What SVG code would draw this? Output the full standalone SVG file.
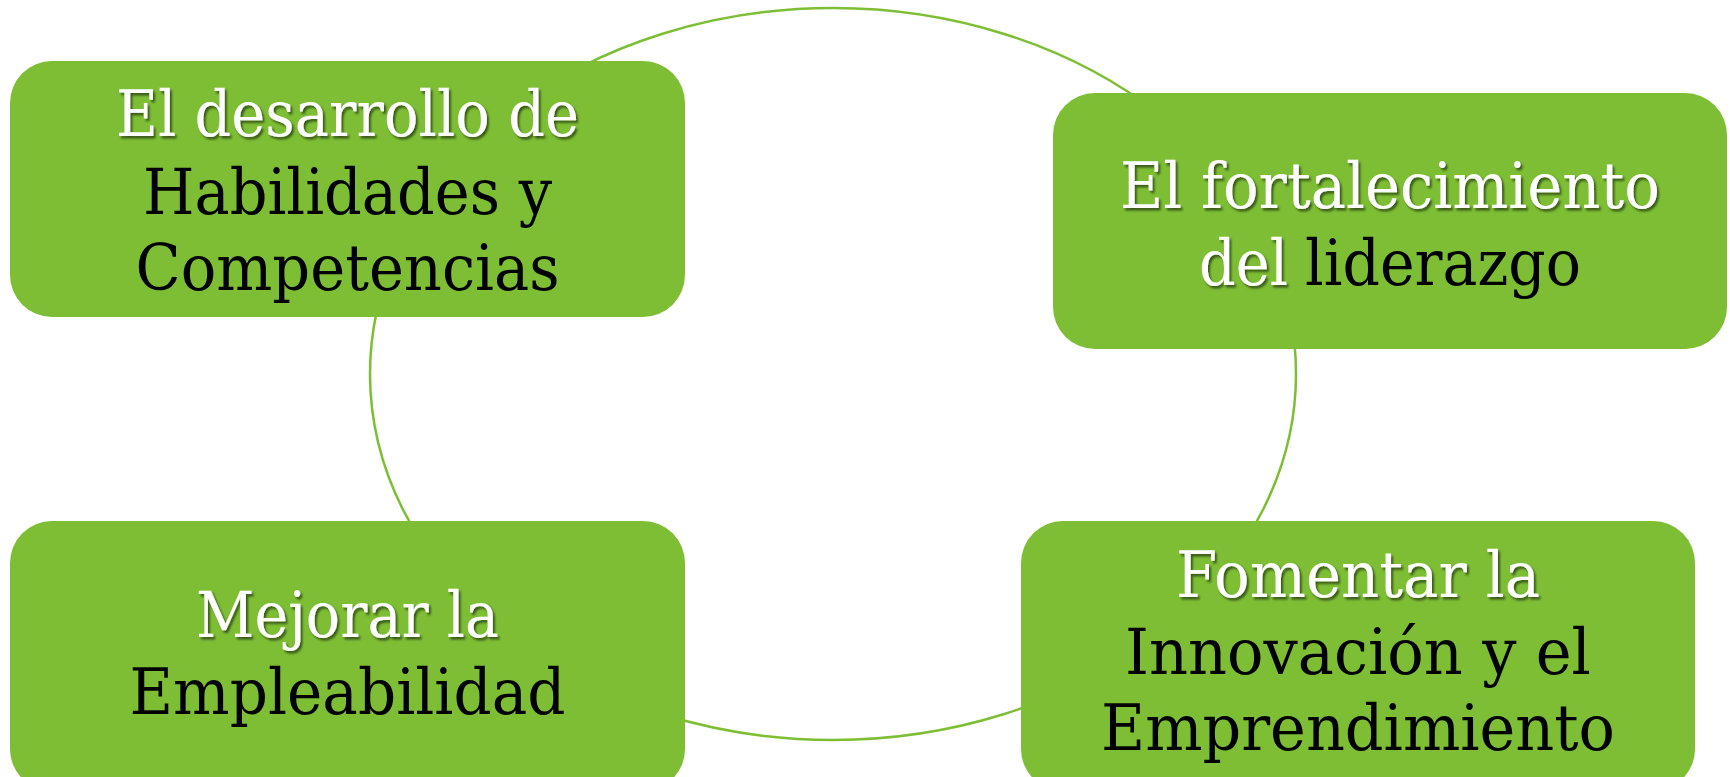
<svg xmlns="http://www.w3.org/2000/svg" width="1730" height="777" viewBox="0 0 1730 777">
<style>
.box{fill:#7DBE34;}
.ring{fill:none;stroke:#7DBE34;stroke-width:2.5;}
.t{font-family:"DejaVu Serif","Liberation Serif",serif;font-size:64px;text-anchor:middle;}
.s{text-anchor:start;}
.w{fill:#FFFFFF;filter:url(#sh);}
.k{fill:#000000;}
</style>
<defs>
<filter id="sh" x="-5%" y="-20%" width="110%" height="140%">
<feDropShadow dx="2" dy="2.5" stdDeviation="1.2" flood-color="#000000" flood-opacity="0.55"/>
</filter>
</defs>
<rect width="1730" height="777" fill="#FFFFFF"/>
<g id="connectors">
<ellipse class="ring" cx="833" cy="374" rx="463" ry="366"/>
</g>
<g id="node1">
<rect class="box" x="10" y="61" width="675" height="256" rx="42"/>
<text class="t w" x="347.5" y="136" textLength="463" lengthAdjust="spacingAndGlyphs">El desarrollo de</text>
<text class="t k" x="347.5" y="214" textLength="409" lengthAdjust="spacingAndGlyphs">Habilidades y</text>
<text class="t k" x="347.5" y="290" textLength="424" lengthAdjust="spacingAndGlyphs">Competencias</text>
</g>
<g id="node2">
<rect class="box" x="1053" y="93" width="674" height="256" rx="42"/>
<text class="t w" x="1390" y="208" textLength="540" lengthAdjust="spacingAndGlyphs">El fortalecimiento</text>
<text class="t s w" x="1199" y="285" textLength="89" lengthAdjust="spacingAndGlyphs">del</text>
<text class="t s k" x="1305" y="285" textLength="276" lengthAdjust="spacingAndGlyphs">liderazgo</text>
</g>
<g id="node3">
<rect class="box" x="10" y="521" width="675" height="270" rx="42"/>
<text class="t w" x="347.5" y="637" textLength="303" lengthAdjust="spacingAndGlyphs">Mejorar la</text>
<text class="t k" x="347.5" y="714" textLength="436" lengthAdjust="spacingAndGlyphs">Empleabilidad</text>
</g>
<g id="node4">
<rect class="box" x="1021" y="521" width="674" height="270" rx="42"/>
<text class="t w" x="1358" y="597" textLength="364" lengthAdjust="spacingAndGlyphs">Fomentar la</text>
<text class="t k" x="1358" y="674" textLength="466" lengthAdjust="spacingAndGlyphs">Innovación y el</text>
<text class="t k" x="1358" y="750" textLength="514" lengthAdjust="spacingAndGlyphs">Emprendimiento</text>
</g>
</svg>
